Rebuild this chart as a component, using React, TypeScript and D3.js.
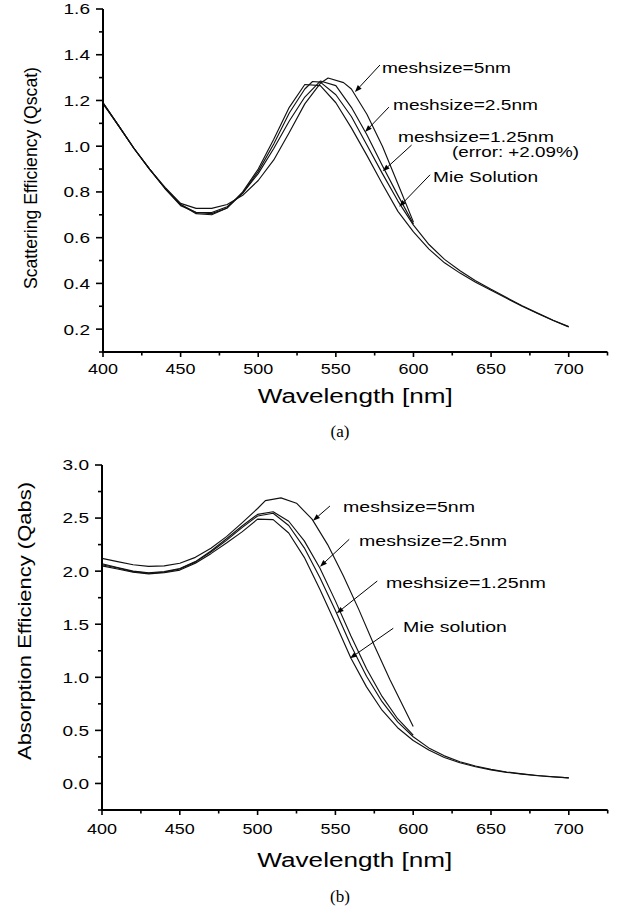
import React from "react";
import * as d3 from "d3";

// ---------- DATA ----------
// (a) Scattering efficiency
const wlAMie = [400,410,420,430,440,450,460,470,480,490,500,510,520,530,540,550,560,570,580,590,600,610,620,630,640,650,660,670,680,690,700];
const scatMie = [1.19,1.09,0.99,0.90,0.815,0.745,0.705,0.70,0.73,0.80,0.90,1.03,1.17,1.27,1.265,1.19,1.08,0.96,0.835,0.715,0.625,0.55,0.49,0.445,0.405,0.37,0.335,0.30,0.268,0.238,0.21];
const wlA125 = [400,410,420,430,440,450,460,470,480,490,500,510,520,530,535,540,550,560,570,580,590,600,610,620,630,640,650,660,670,680,690,700];
const scat125 = [1.19,1.09,0.99,0.90,0.815,0.745,0.71,0.705,0.73,0.795,0.89,1.01,1.145,1.25,1.283,1.28,1.225,1.13,1.005,0.88,0.76,0.655,0.57,0.505,0.455,0.412,0.374,0.338,0.302,0.27,0.239,0.211];
const wlA25 = [400,410,420,430,440,450,460,470,480,490,500,510,520,530,540,550,560,570,580,590,600];
const scat25 = [1.19,1.09,0.99,0.90,0.815,0.74,0.71,0.71,0.735,0.795,0.88,0.99,1.11,1.215,1.285,1.265,1.17,1.05,0.915,0.785,0.66];
const wlA5 = [400,410,420,430,440,450,460,470,480,490,500,510,520,530,540,545,555,560,570,580,590,600];
const scat5 = [1.185,1.09,0.99,0.90,0.82,0.75,0.728,0.728,0.745,0.785,0.85,0.94,1.06,1.185,1.275,1.298,1.278,1.25,1.14,1.0,0.835,0.668];

// (b) Absorption efficiency
const wlB = [400,410,420,430,440,450,460,470,480,490,500,510,520,530,540,550,560,570,580,590,600,610,620,630,640,650,660,670,680,690,700];
const absMie = [2.05,2.02,1.99,1.975,1.985,2.01,2.075,2.165,2.265,2.37,2.49,2.485,2.36,2.13,1.83,1.51,1.18,0.91,0.69,0.525,0.405,0.315,0.245,0.195,0.158,0.128,0.105,0.088,0.073,0.062,0.052];
const abs125 = [2.06,2.03,1.995,1.98,1.99,2.02,2.085,2.18,2.29,2.41,2.52,2.545,2.43,2.22,1.94,1.63,1.30,1.01,0.77,0.58,0.44,0.335,0.26,0.205,0.165,0.133,0.108,0.09,0.075,0.063,0.053];
const wlB25 = [400,410,420,430,440,450,460,470,480,490,500,510,520,530,540,550,560,570,580,590,600];
const abs25 = [2.07,2.035,2.0,1.985,1.995,2.025,2.09,2.19,2.305,2.425,2.535,2.56,2.47,2.285,2.03,1.72,1.39,1.08,0.82,0.61,0.455];
const wlB5 = [400,410,420,430,440,450,460,470,480,490,500,505,515,525,535,545,555,565,575,585,600];
const abs5 = [2.12,2.09,2.06,2.045,2.05,2.075,2.13,2.215,2.325,2.455,2.59,2.665,2.69,2.64,2.49,2.25,1.96,1.64,1.30,0.98,0.536];

// ticks
const xMajor = [400,450,500,550,600,650,700];
const xMinor = [425,475,525,575,625,675,725];
const yMajorA = [0.2,0.4,0.6,0.8,1.0,1.2,1.4,1.6];
const yMinorA = [0.1,0.3,0.5,0.7,0.9,1.1,1.3,1.5];
const yMajorB = [0.0,0.5,1.0,1.5,2.0,2.5,3.0];
const yMinorB = [-0.25,0.25,0.75,1.25,1.75,2.25,2.75];

// annotations: text start (nm, value), arrow from (nm,value) to tip (nm,value)
const annA = [
  { text: "meshsize=5nm", tx: 579.7, ty: 1.322, w: 129, ax: 578.4, ay: 1.355, bx: 562.3, by: 1.237 },
  { text: "meshsize=2.5nm", tx: 586.8, ty: 1.160, w: 145, ax: 584.2, ay: 1.171, bx: 568.8, by: 1.062 },
  { text: "meshsize=1.25nm", tx: 590.0, ty: 1.020, w: 156, ax: 598.8, ay: 1.005, bx: 580.2, by: 0.890 },
  { text: "(error: +2.09%)", tx: 624.8, ty: 0.954, w: 127 },
  { text: "Mie Solution", tx: 612.6, ty: 0.845, w: 105, ax: 610.7, ay: 0.875, bx: 590.8, by: 0.735 },
];
const annB = [
  { text: "meshsize=5nm", tx: 554.9, ty: 2.557, w: 132, ax: 546.5, ay: 2.614, bx: 535.6, by: 2.475 },
  { text: "meshsize=2.5nm", tx: 565.2, ty: 2.237, w: 148, ax: 558.9, ay: 2.300, bx: 540.1, by: 2.042 },
  { text: "meshsize=1.25nm", tx: 582.5, ty: 1.841, w: 160, ax: 576.9, ay: 1.907, bx: 550.8, by: 1.603 },
  { text: "Mie solution", tx: 593.4, ty: 1.427, w: 104, ax: 587.2, ay: 1.462, bx: 559.4, by: 1.179 },
];

const SANS = "'Liberation Sans', Arial, Helvetica, sans-serif";
const SERIF = "'Liberation Serif', 'Times New Roman', serif";

type Series = { wl: number[]; v: number[] };
type Ann = { text: string; tx: number; ty: number; w: number; ax?: number; ay?: number; bx?: number; by?: number };

function Panel(props: {
  left: number; right: number; top: number; bottom: number;
  yDomain: [number, number]; yMajor: number[]; yMinor: number[];
  fmt: (v: number) => string; series: Series[]; ann: Ann[];
  yLabel: string; yLabelX: number; yLabelY: number; yLabelLen: number;
  xLabelY: number; tickLabelY: number; caption: string; captionY: number;
}) {
  const { left, right, top, bottom } = props;
  const x = d3.scaleLinear().domain([400, 725]).range([left, right]);
  const y = d3.scaleLinear().domain(props.yDomain).range([bottom, top]);
  const line = d3.line<[number, number]>().x((d) => x(d[0])).y((d) => y(d[1]));
  return (
    <g>
      {props.series.map((s, i) => (
        <path key={i} d={line(s.wl.map((w, j) => [w, s.v[j]] as [number, number])) || ""}
          fill="none" stroke="#111" strokeWidth={1.15} strokeLinejoin="round" />
      ))}
      {/* axes */}
      <line x1={left} x2={left} y1={top} y2={bottom + 1} stroke="#000" strokeWidth={2} />
      <line x1={left - 1} x2={right} y1={bottom} y2={bottom} stroke="#000" strokeWidth={2} />
      {xMajor.map((t) => (
        <g key={"xm" + t}>
          <line x1={x(t)} x2={x(t)} y1={bottom} y2={bottom + 5} stroke="#000" strokeWidth={1.6} />
          <text x={x(t)} y={props.tickLabelY} textAnchor="middle" fontFamily={SANS} fontSize={15.5}
            textLength={30} lengthAdjust="spacingAndGlyphs">{t}</text>
        </g>
      ))}
      {xMinor.map((t) => (
        <line key={"xn" + t} x1={x(t)} x2={x(t)} y1={bottom} y2={bottom + 3.5} stroke="#000" strokeWidth={1.6} />
      ))}
      {props.yMajor.map((t) => (
        <g key={"ym" + t}>
          <line x1={left - 7} x2={left} y1={y(t)} y2={y(t)} stroke="#000" strokeWidth={1.6} />
          <text x={left - 13} y={y(t) + 5.4} textAnchor="end" fontFamily={SANS} fontSize={15.5}
            textLength={26.5} lengthAdjust="spacingAndGlyphs">{props.fmt(t)}</text>
        </g>
      ))}
      {props.yMinor.map((t) => (
        <line key={"yn" + t} x1={left - 4} x2={left} y1={y(t)} y2={y(t)} stroke="#000" strokeWidth={1.6} />
      ))}
      {/* axis titles */}
      <text transform={`translate(${props.yLabelX},${props.yLabelY}) rotate(-90)`} textAnchor="middle"
        fontFamily={SANS} fontSize={19} textLength={props.yLabelLen} lengthAdjust="spacingAndGlyphs">{props.yLabel}</text>
      <text x={(left + right) / 2} y={props.xLabelY} textAnchor="middle" fontFamily={SANS} fontSize={20}
        textLength={195} lengthAdjust="spacingAndGlyphs">Wavelength [nm]</text>
      <text x={340} y={props.captionY} textAnchor="middle" fontFamily={SERIF} fontSize={17}>{props.caption}</text>
      {/* annotations */}
      {props.ann.map((a, i) => {
        const els: any[] = [];
        els.push(
          <text key="t" x={x(a.tx)} y={y(a.ty)} fontFamily={SANS} fontSize={15.5} textLength={a.w}
            lengthAdjust="spacingAndGlyphs">{a.text}</text>
        );
        if (a.ax !== undefined) {
          const x1 = x(a.ax), y1 = y(a.ay!), x2 = x(a.bx!), y2 = y(a.by!);
          const dx = x2 - x1, dy = y2 - y1, L = Math.hypot(dx, dy);
          const ux = dx / L, uy = dy / L;
          const hl = 7, hw = 2.6;
          const bx = x2 - ux * hl, by = y2 - uy * hl;
          els.push(<line key="l" x1={x1} y1={y1} x2={bx} y2={by} stroke="#000" strokeWidth={1} />);
          els.push(
            <polygon key="p" points={`${x2},${y2} ${bx - uy * hw},${by + ux * hw} ${bx + uy * hw},${by - ux * hw}`} fill="#000" />
          );
        }
        return <g key={i}>{els}</g>;
      })}
    </g>
  );
}

export default function App() {
  return (
    <svg width={623} height={911} style={{ position: "absolute", left: 0, top: 0, background: "#fff" }}>
      <rect x={0} y={0} width={623} height={911} fill="#fff" />
      <Panel left={103} right={607.5} top={9} bottom={352} yDomain={[0.1, 1.6]}
        yMajor={yMajorA} yMinor={yMinorA} fmt={(v) => v.toFixed(1)}
        series={[{ wl: wlAMie, v: scatMie }, { wl: wlA125, v: scat125 }, { wl: wlA25, v: scat25 }, { wl: wlA5, v: scat5 }]}
        ann={annA} yLabel="Scattering Efficiency (Qscat)" yLabelX={37} yLabelY={178} yLabelLen={222}
        xLabelY={403} tickLabelY={374} caption="(a)" captionY={437} />
      <Panel left={102} right={607.7} top={465} bottom={810} yDomain={[-0.25, 3.0]}
        yMajor={yMajorB} yMinor={yMinorB} fmt={(v) => v.toFixed(1)}
        series={[{ wl: wlB, v: absMie }, { wl: wlB, v: abs125 }, { wl: wlB25, v: abs25 }, { wl: wlB5, v: abs5 }]}
        ann={annB} yLabel="Absorption Efficiency (Qabs)" yLabelX={31} yLabelY={621} yLabelLen={278}
        xLabelY={867} tickLabelY={834} caption="(b)" captionY={902} />
    </svg>
  );
}
